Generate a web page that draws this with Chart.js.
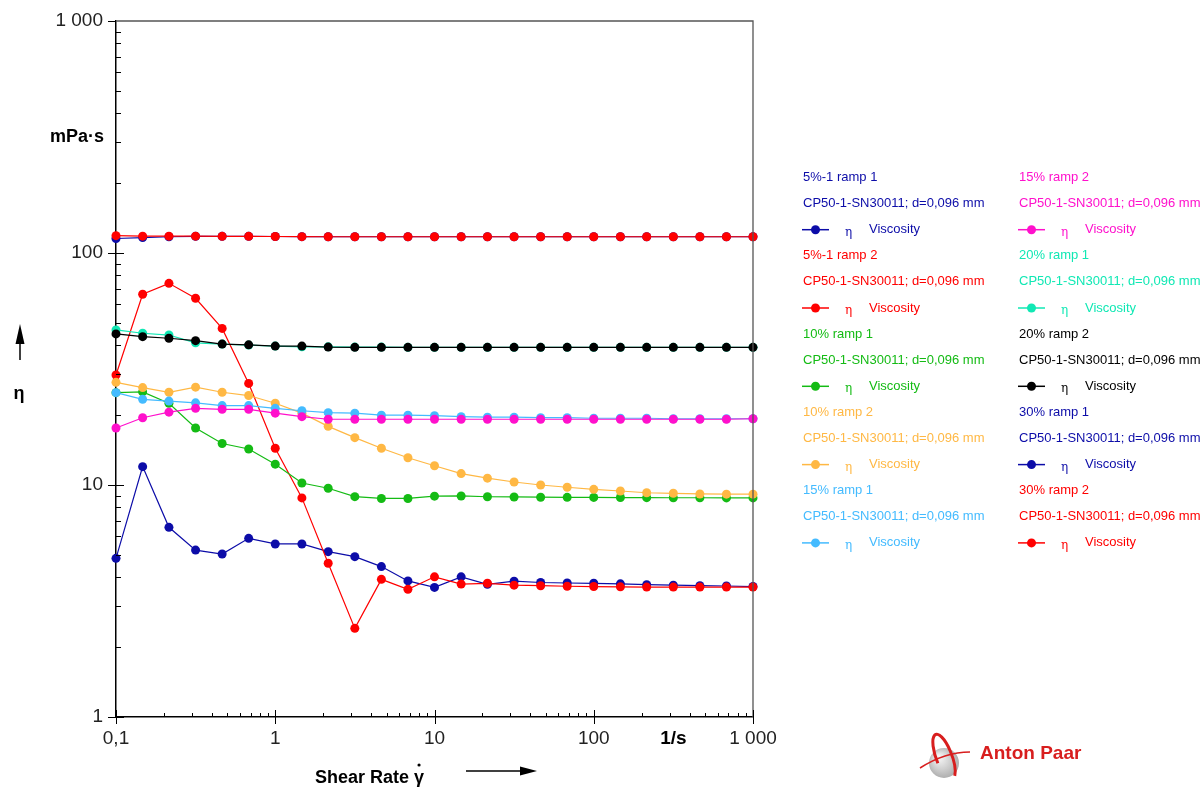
<!doctype html>
<html>
<head>
<script src="https://cdnjs.cloudflare.com/ajax/libs/Chart.js/4.4.0/chart.umd.js"></script>
<style>
  body { margin: 0; background: #fff; }
  canvas { display: block; }
</style>
</head>
<body>
<canvas id="c1" width="1204" height="789"></canvas>
<script>
// shear rate points (1/s), 6 per decade
let shearRate = [0.1, 0.147, 0.215, 0.316, 0.464, 0.681, 1, 1.47, 2.15, 3.16, 4.64, 6.81,
                 10, 14.7, 21.5, 31.6, 46.4, 68.1, 100, 147, 215, 316, 464, 681, 1000];

let seriesNames = ["5%-1 ramp 1", "5%-1 ramp 2", "10% ramp 1", "10% ramp 2", "15% ramp 1",
                   "15% ramp 2", "20% ramp 1", "20% ramp 2", "30% ramp 1", "30% ramp 2"];
let seriesColors = ["#0c0ca8", "#ff0000", "#14bb14", "#ffb844", "#44bbff",
                    "#ff10cc", "#10e8b4", "#000000", "#0c0ca8", "#ff0000"];

// viscosity eta (mPa·s)
let visc5r1  = [4.83, 12.0, 6.57, 5.24, 5.04, 5.89, 5.57, 5.57, 5.16, 4.91, 4.45, 3.86, 3.62,
                4.02, 3.73, 3.85, 3.80, 3.78, 3.77, 3.75, 3.72, 3.70, 3.68, 3.67, 3.65];
let visc5r2  = [29.8, 66.4, 74.0, 63.8, 47.3, 27.4, 14.4, 8.8, 4.6, 2.41, 3.92, 3.55, 4.02,
                3.74, 3.77, 3.70, 3.68, 3.66, 3.65, 3.64, 3.63, 3.63, 3.63, 3.63, 3.63];
let visc10r1 = [25.0, 25.2, 22.5, 17.6, 15.1, 14.3, 12.3, 10.2, 9.68, 8.91, 8.75, 8.75, 8.95,
                8.97, 8.9, 8.88, 8.86, 8.85, 8.84, 8.83, 8.82, 8.81, 8.81, 8.80, 8.80];
let visc10r2 = [27.7, 26.3, 25.1, 26.4, 25.1, 24.3, 22.5, 20.4, 17.9, 16.0, 14.4, 13.1, 12.1,
                11.2, 10.7, 10.3, 10.0, 9.78, 9.58, 9.42, 9.26, 9.21, 9.15, 9.13, 9.13];
let visc15r1 = [25.0, 23.4, 23.0, 22.6, 22.0, 22.0, 21.4, 20.9, 20.5, 20.4, 20.0, 20.0, 19.9,
                19.7, 19.6, 19.6, 19.5, 19.5, 19.4, 19.4, 19.4, 19.3, 19.3, 19.3, 19.3];
let visc15r2 = [17.6, 19.5, 20.6, 21.4, 21.2, 21.2, 20.4, 19.7, 19.2, 19.2, 19.2, 19.2, 19.2,
                19.2, 19.2, 19.2, 19.2, 19.2, 19.2, 19.2, 19.2, 19.2, 19.2, 19.2, 19.3];
let visc20r1 = [46.6, 45.1, 44.3, 41.0, 40.5, 40.1, 39.7, 39.4, 39.4, 39.3, 39.3, 39.2, 39.2,
                39.2, 39.2, 39.2, 39.2, 39.2, 39.2, 39.2, 39.2, 39.2, 39.2, 39.2, 39.2];
let visc20r2 = [44.8, 43.6, 42.9, 41.9, 40.5, 40.2, 39.7, 39.7, 39.3, 39.2, 39.2, 39.2, 39.2,
                39.2, 39.2, 39.2, 39.2, 39.2, 39.2, 39.2, 39.2, 39.2, 39.2, 39.2, 39.2];
let visc30r1 = [115.5, 116.5, 117.5, 118.0, 118.0, 118.0, 117.8, 117.6, 117.5, 117.5, 117.5, 117.5, 117.5,
                117.5, 117.5, 117.5, 117.5, 117.5, 117.5, 117.5, 117.5, 117.5, 117.5, 117.5, 117.5];
let visc30r2 = [118.8, 118.2, 118.2, 118.2, 118.0, 118.0, 117.8, 117.6, 117.5, 117.5, 117.5, 117.5, 117.5,
                117.5, 117.5, 117.5, 117.5, 117.5, 117.5, 117.5, 117.5, 117.5, 117.5, 117.5, 117.5];

let allSeries = [visc5r1, visc5r2, visc10r1, visc10r2, visc15r1, visc15r2, visc20r1, visc20r2, visc30r1, visc30r2];

let xTicks = [0.1, 1, 10, 100, 1000];
let xTickLabels = ["0,1", "1", "10", "100", "1 000"];
let yTicks = [1, 10, 100, 1000];
let yTickLabels = ["1", "10", "100", "1 000"];

let probeText = "CP50-1-SN30011; d=0,096 mm";
const FONT = '"Liberation Sans", Arial, sans-serif';

function drawArrow(ctx, x1, y1, x2, y2, head) {
  const ang = Math.atan2(y2 - y1, x2 - x1);
  ctx.beginPath();
  ctx.moveTo(x1, y1);
  ctx.lineTo(x2 - head * Math.cos(ang), y2 - head * Math.sin(ang));
  ctx.stroke();
  ctx.beginPath();
  ctx.moveTo(x2, y2);
  ctx.lineTo(x2 - head * Math.cos(ang) + 4.5 * Math.sin(ang), y2 - head * Math.sin(ang) - 4.5 * Math.cos(ang));
  ctx.lineTo(x2 - head * Math.cos(ang) - 4.5 * Math.sin(ang), y2 - head * Math.sin(ang) + 4.5 * Math.cos(ang));
  ctx.closePath();
  ctx.fill();
}

const decor = {
  id: 'decor',
  afterDraw(chart) {
    const ctx = chart.ctx, a = chart.chartArea, xs = chart.scales.x, ys = chart.scales.y;
    ctx.save();
    // top and right frame
    ctx.strokeStyle = '#555';
    ctx.lineWidth = 1.3;
    ctx.beginPath();
    ctx.moveTo(a.left, a.top);
    ctx.lineTo(a.right, a.top);
    ctx.lineTo(a.right, a.bottom);
    ctx.stroke();

    // tick marks, inside the plot
    ctx.strokeStyle = '#000';
    ctx.lineWidth = 1;
    yTicks.forEach(function (d) {
      const p = Math.round(ys.getPixelForValue(d)) + 0.5;
      ctx.beginPath(); ctx.moveTo(a.left - 8, p); ctx.lineTo(a.left + (d < 1000 ? 8 : 0), p); ctx.stroke();
      if (d < 1000) {
        for (let m = 2; m <= 9; m++) {
          const q = Math.round(ys.getPixelForValue(d * m)) + 0.5;
          ctx.beginPath(); ctx.moveTo(a.left, q); ctx.lineTo(a.left + 5, q); ctx.stroke();
        }
      }
    });
    xTicks.forEach(function (d) {
      const p = Math.round(xs.getPixelForValue(d)) + 0.5;
      ctx.beginPath(); ctx.moveTo(p, a.bottom + 7); ctx.lineTo(p, a.bottom - 7); ctx.stroke();
      if (d < 1000) {
        for (let m = 2; m <= 9; m++) {
          const q = Math.round(xs.getPixelForValue(d * m)) + 0.5;
          ctx.beginPath(); ctx.moveTo(q, a.bottom); ctx.lineTo(q, a.bottom - 4); ctx.stroke();
        }
      }
    });

    // unit labels
    ctx.fillStyle = '#000';
    ctx.font = 'bold 18px ' + FONT;
    ctx.textAlign = 'right';
    ctx.textBaseline = 'middle';
    ctx.fillText('mPa·s', 104, ys.getPixelForValue(316.2));
    ctx.textAlign = 'center';
    ctx.font = 'bold 19px ' + FONT;
    ctx.fillText('1/s', xs.getPixelForValue(316.2), 739);

    // y axis symbol + arrow
    ctx.lineWidth = 1.5;
    drawArrow(ctx, 20, 360, 20, 324, 20);
    ctx.font = 'bold 18px ' + FONT;
    ctx.fillText('η', 19, 394);

    // x axis title + arrow (dot over gamma)
    ctx.textAlign = 'left';
    ctx.font = 'bold 18px ' + FONT;
    const t = 'Shear Rate ';
    ctx.fillText(t + 'γ', 315, 778);
    const gx = 315 + ctx.measureText(t).width + ctx.measureText('γ').width / 2;
    ctx.beginPath(); ctx.arc(gx, 765, 1.6, 0, Math.PI * 2); ctx.fill();
    drawArrow(ctx, 466, 771, 537, 771, 17);

    // legend
    ctx.textBaseline = 'middle';
    const rowY0 = 177.5, rowStep = 26.1, colX = [803, 1019];
    seriesNames.forEach(function (name, i) {
      const x = colX[Math.floor(i / 5)];
      const y = rowY0 + (i % 5) * 3 * rowStep;
      const c = seriesColors[i];
      ctx.fillStyle = c;
      ctx.strokeStyle = c;
      ctx.font = '13px ' + FONT;
      ctx.textAlign = 'left';
      ctx.fillText(name, x, y);
      ctx.fillText(probeText, x, y + rowStep);
      const sy = y + 2 * rowStep;
      ctx.lineWidth = 1.5;
      ctx.beginPath(); ctx.moveTo(x - 1, sy); ctx.lineTo(x + 26, sy); ctx.stroke();
      ctx.beginPath(); ctx.arc(x + 12.5, sy, 4.5, 0, Math.PI * 2); ctx.fill();
      ctx.font = '12px "DejaVu Serif", serif';
      ctx.fillText('η', x + 42, sy + 3);
      ctx.font = '13px ' + FONT;
      ctx.fillText('Viscosity', x + 66, sy);
    });

    // logo
    const g = ctx.createRadialGradient(938, 757, 2, 944, 763, 17);
    g.addColorStop(0, '#f4f4f4');
    g.addColorStop(1, '#a8a8a8');
    ctx.fillStyle = g;
    ctx.beginPath(); ctx.arc(944, 763, 15, 0, Math.PI * 2); ctx.fill();
    ctx.strokeStyle = '#d81e1e';
    ctx.lineWidth = 3;
    ctx.beginPath(); ctx.ellipse(944, 757, 8, 24, -0.35, Math.PI * 0.95, Math.PI * 2.35); ctx.stroke();
    ctx.lineWidth = 1.5;
    ctx.beginPath(); ctx.moveTo(920, 768); ctx.quadraticCurveTo(945, 752, 970, 752); ctx.stroke();
    ctx.fillStyle = '#d81e1e';
    ctx.font = 'bold 19px ' + FONT;
    ctx.textAlign = 'left';
    ctx.fillText('Anton Paar', 980, 754);
    ctx.restore();
  }
};

let datasets = allSeries.map(function (vals, i) {
  return {
    label: seriesNames[i],
    data: shearRate.map(function (x, k) { return { x: x, y: vals[k] }; }),
    borderColor: seriesColors[i],
    backgroundColor: seriesColors[i],
    borderWidth: 1.2,
    pointRadius: 4.5,
    pointBorderWidth: 0,
    pointBackgroundColor: seriesColors[i],
    tension: 0,
    clip: false,
    order: 10 - i
  };
});

new Chart(document.getElementById('c1'), {
  type: 'line',
  data: { datasets: datasets },
  options: {
    responsive: false,
    animation: false,
    devicePixelRatio: 1,
    layout: { padding: { left: 0, top: 21, right: 451, bottom: 0 } },
    plugins: { legend: { display: false }, tooltip: { enabled: false } },
    scales: {
      x: {
        type: 'logarithmic',
        min: 0.1,
        max: 1000,
        afterFit: function (s) { s.height = 72; s.paddingTop = 0; s.paddingBottom = 0; },
        afterBuildTicks: function (s) { s.ticks = xTicks.map(function (v) { return { value: v }; }); },
        grid: { display: false, drawTicks: false },
        border: { display: true, color: '#000', width: 1.5 },
        ticks: {
          padding: 10,
          maxRotation: 0,
          autoSkip: false,
          color: '#222',
          font: { family: FONT, size: 19 },
          callback: function (v) { return xTickLabels[xTicks.indexOf(v)]; }
        }
      },
      y: {
        type: 'logarithmic',
        min: 1,
        max: 1000,
        afterFit: function (s) { s.width = 116; s.paddingTop = 0; s.paddingBottom = 0; },
        afterBuildTicks: function (s) { s.ticks = yTicks.map(function (v) { return { value: v }; }); },
        grid: { display: false, drawTicks: false },
        border: { display: true, color: '#000', width: 1.5 },
        ticks: {
          padding: 13,
          autoSkip: false,
          color: '#222',
          font: { family: FONT, size: 19 },
          callback: function (v) { return yTickLabels[yTicks.indexOf(v)]; }
        }
      }
    }
  },
  plugins: [decor]
});
</script>
</body>
</html>
